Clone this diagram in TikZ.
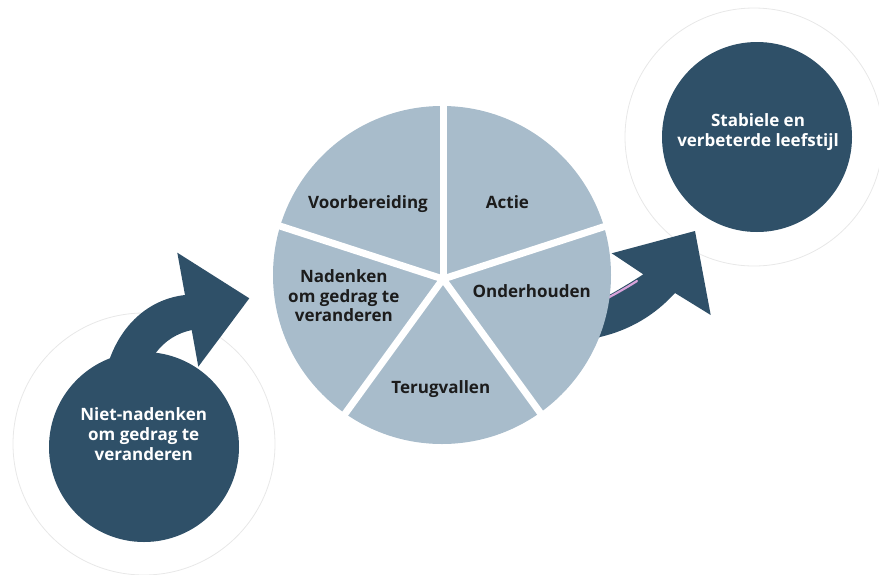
\documentclass[tikz,border=0pt]{standalone}
\usepackage{fontspec}
\setmainfont{Open Sans}
\definecolor{navy}{HTML}{2F5068}
\definecolor{piefill}{HTML}{A8BCCB}
\definecolor{ringgray}{HTML}{E8E8E8}
\definecolor{pinkline}{HTML}{D9A3DA}
\definecolor{labelink}{HTML}{1C1C1C}
\tikzset{
  ring/.style={circle, draw=ringgray, line width=0.8pt, fill=white, inner sep=0pt},
  darkcirc/.style={circle, fill=navy, inner sep=0pt, minimum size=190pt},
  whitetext/.style={text=white, font=\fontsize{17}{20}\selectfont\bfseries, align=center, inner sep=0pt},
  pietext/.style={text=labelink, font=\fontsize{17}{19.5}\selectfont\bfseries, align=center, inner sep=0pt},
  arrowshape/.style={fill=navy},
  gapline/.style={white, line width=7pt}
}
\begin{document}
\begin{tikzpicture}[x=1pt,y=-1pt]
\useasboundingbox (0,0) rectangle (879,574);
% faint rings
\node[ring, minimum size=262pt] (ringL) at (144,444) {};
\node[ring, minimum size=258pt] (ringR) at (754,137) {};
% left curved arrow
\fill[arrowshape] (106,372) -- (110,358)
  .. controls (123,323) and (150,299) .. (185,295)
  -- (177.3,252.7) -- (249.3,298.3) -- (198.3,366.7) -- (191.7,330)
  .. controls (178,333) and (165,340) .. (155,354)
  -- (160,372) -- cycle;
% right curved arrow
\fill[arrowshape] (585,345) -- (600,337)
  .. controls (630,330) and (655,315) .. (675,293)
  -- (710.7,315) -- (695,231) -- (611.7,253.3) -- (643.3,274.3)
  .. controls (630,283) and (615,292) .. (600,300)
  -- (585,306) -- cycle;
\draw[pinkline, line width=2.2pt, line cap=round] (604,300) .. controls (615,294) and (626,288) .. (637,281);
% pie
\fill[piefill] (442,275) circle[radius=169];
\coordinate (pc) at (443,279);
\draw[gapline] (pc) -- (443,79);
\draw[gapline] (pc) -- (633.2,217.2);
\draw[gapline] (pc) -- (560.6,440.8);
\draw[gapline] (pc) -- (325.4,440.8);
\draw[gapline] (pc) -- (252.8,217.2);
% pie labels
\node[pietext, anchor=base] (voor) at (368,208.3) {Voorbereiding};
\node[pietext, anchor=base] (actie) at (507.5,208.3) {Actie};
\node[pietext, anchor=base] (onder) at (531.7,297.3) {Onderhouden};
\node[pietext, anchor=base] (terug) at (440.8,393.3) {Terugvallen};
\node[pietext, anchor=base] (naden) at (343.8,321.7) {Nadenken\\om gedrag te\\veranderen};
% dark circles
\node[darkcirc] (start) at (144,447) {};
\node[whitetext, anchor=base] (startlabel) at (143.7,460) {Niet-nadenken\\om gedrag te\\veranderen};
\node[darkcirc] (goal) at (757,137) {};
\node[whitetext, anchor=base] (goallabel) at (758,146.7) {Stabiele en\\verbeterde leefstijl};
\end{tikzpicture}
\end{document}
